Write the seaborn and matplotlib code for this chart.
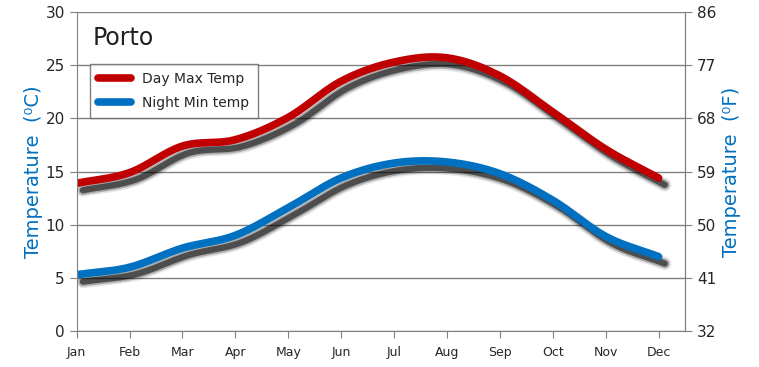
import numpy as np
import pandas as pd
import matplotlib
matplotlib.use("Agg")
import matplotlib.pyplot as plt
import matplotlib.patheffects as pe
from matplotlib.lines import Line2D
import seaborn as sns

months = ["Jan", "Feb", "Mar", "Apr", "May", "Jun", "Jul", "Aug", "Sep", "Oct", "Nov", "Dec"]
day_max = [13.9, 14.9, 17.4, 18.0, 20.1, 23.5, 25.3, 25.7, 24.0, 20.6, 17.1, 14.4]
night_min = [5.3, 6.0, 7.8, 9.0, 11.6, 14.4, 15.8, 15.9, 14.8, 12.3, 8.9, 7.0]
f_ticks = [32, 41, 50, 59, 68, 77, 86]

RED = "#C00000"
BLUE = "#0070C0"


def smooth(y, n=20):
    # catmull-rom, solo para dibujar la curva suave
    y = np.asarray(y, float)
    p = np.concatenate([[2 * y[0] - y[1]], y, [2 * y[-1] - y[-2]]])
    xs, ys = [], []
    for i in range(len(y) - 1):
        p0, p1, p2, p3 = p[i], p[i + 1], p[i + 2], p[i + 3]
        t = np.linspace(0, 1, n, endpoint=False)
        v = 0.5 * (2 * p1 + (-p0 + p2) * t + (2 * p0 - 5 * p1 + 4 * p2 - p3) * t ** 2
                   + (-p0 + 3 * p1 - 3 * p2 + p3) * t ** 3)
        xs.append(i + t)
        ys.append(v)
    xs.append([len(y) - 1])
    ys.append([y[-1]])
    return np.concatenate(xs), np.concatenate(ys)


sns.set_style("white")
plt.rcParams["font.family"] = ["DejaVu Sans"]

fig = plt.figure(figsize=(7.59, 3.67), dpi=100)
ax = fig.add_axes([0.101, 0.098, 0.8015, 0.869])

rows = []
for name, vals in [("Day Max Temp", day_max), ("Night Min temp", night_min)]:
    xs, ys = smooth(vals)
    rows.append(pd.DataFrame({"x": xs, "t": ys, "serie": name}))
df = pd.concat(rows)

off = (4.5, -5)
shadow = [pe.SimpleLineShadow(offset=off, shadow_color="k", alpha=0.10, linewidth=9.5),
          pe.SimpleLineShadow(offset=off, shadow_color="k", alpha=0.25, linewidth=7),
          pe.SimpleLineShadow(offset=off, shadow_color="k", alpha=0.55, linewidth=4.5),
          pe.Normal()]

sns.lineplot(data=df, x="x", y="t", hue="serie", palette=[RED, BLUE], linewidth=5.5,
             ax=ax, legend=False, estimator=None, sort=False)
for ln in ax.get_lines():
    ln.set_path_effects(shadow)
    ln.set_solid_capstyle("round")

ax.set_xlim(0, 11.5)
ax.set_ylim(0, 30)
ax.set_xticks(range(12))
ax.set_xticklabels(months, fontsize=9)
ax.set_yticks(range(0, 31, 5))
ax.tick_params(axis="y", labelsize=11, length=5, color="#808080", direction="out", left=True)
ax.tick_params(axis="x", length=5, color="#808080", direction="out", bottom=True, pad=6)
ax.yaxis.grid(True, color="#808080", linewidth=1)
ax.set_axisbelow(True)
for s in ["left", "bottom", "right"]:
    ax.spines[s].set_color("#808080")
ax.spines["top"].set_visible(False)
ax.set_xlabel("")
ax.set_ylabel("Temperature  (\u2070C)", color=BLUE, fontsize=14, labelpad=2)

ax2 = ax.twinx()
ax2.set_ylim(32, 86)
ax2.set_yticks(f_ticks)
ax2.tick_params(axis="y", labelsize=11, length=5, color="#808080", direction="out")
for s in ["left", "bottom", "top"]:
    ax2.spines[s].set_visible(False)
ax2.spines["right"].set_color("#808080")
ax2.set_ylabel("Temperature  (\u2070F)", color=BLUE, fontsize=14, labelpad=4)

ax.text(0.3, 27.6, "Porto", fontsize=17, va="center", ha="left", color="#202020")

handles = [Line2D([], [], color=RED, linewidth=5.5, solid_capstyle="round"),
           Line2D([], [], color=BLUE, linewidth=5.5, solid_capstyle="round")]
leg = ax.legend(handles, ["Day Max Temp", "Night Min temp"], loc="upper left",
                bbox_to_anchor=(0.01, 0.86), fontsize=10, frameon=True, fancybox=False,
                edgecolor="#606060", handlelength=2.4, borderpad=0.6, labelspacing=0.7)
leg.get_frame().set_linewidth(1)

plt.savefig("out.png", dpi=100)
